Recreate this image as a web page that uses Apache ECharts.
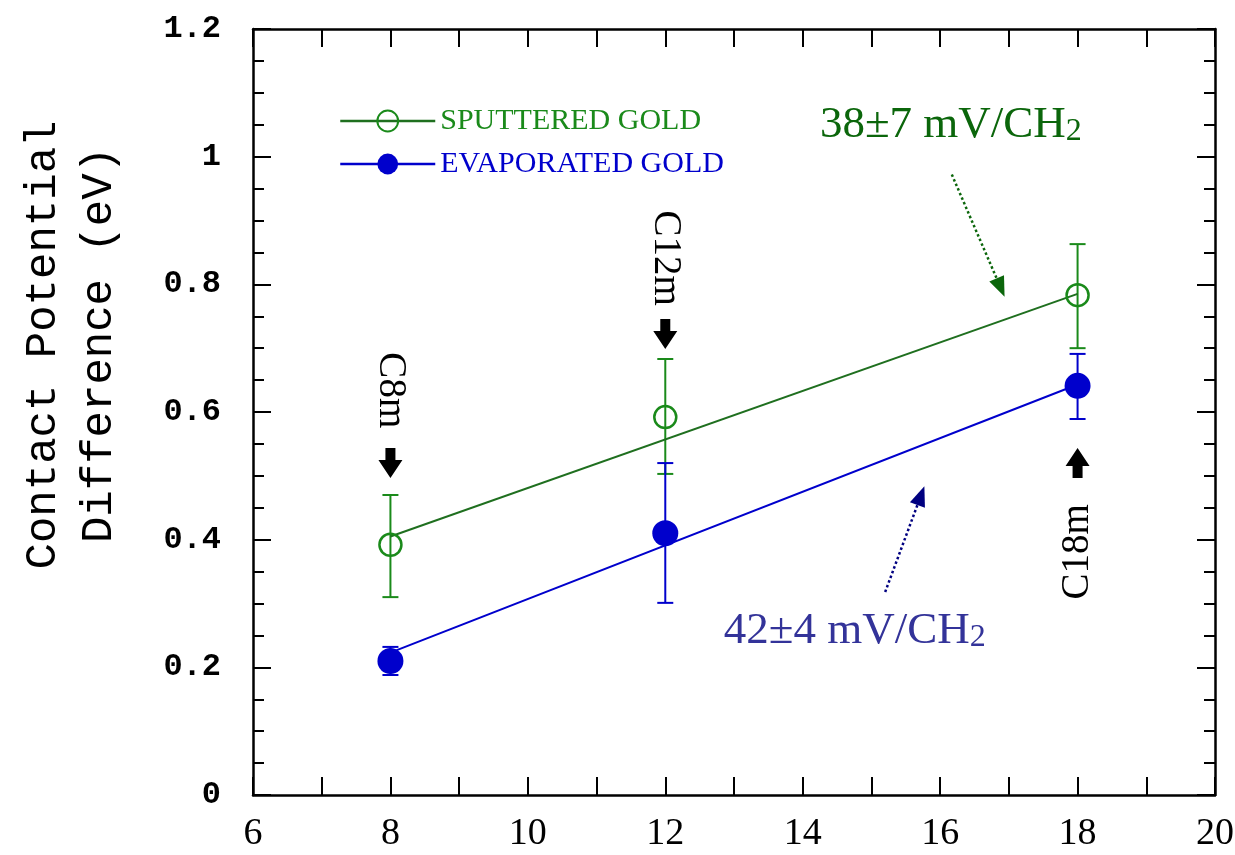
<!DOCTYPE html>
<html><head><meta charset="utf-8">
<script src="https://cdn.jsdelivr.net/npm/echarts@6/dist/echarts.min.js"></script>
<style>html,body{margin:0;padding:0;background:#fff}#c{width:1235px;height:855px}</style>
</head><body><div id="c"></div><script>
// ---- data ----
const chainLengths = [8, 12, 18];
const sputteredCPD = [0.392, 0.592, 0.783];
const sputteredErrLow = [0.310, 0.503, 0.700];
const sputteredErrHigh = [0.470, 0.683, 0.863];
const evaporatedCPD = [0.210, 0.410, 0.641];
const evaporatedErrLow = [0.188, 0.301, 0.589];
const evaporatedErrHigh = [0.232, 0.520, 0.691];
const fitX = [8, 18];
const sputteredFit = [0.405, 0.785];
const evaporatedFit = [0.223, 0.643];
const chainLabels = ['C8m', 'C12m', 'C18m'];
const seriesNames = ['SPUTTERED GOLD', 'EVAPORATED GOLD'];
const slopeTexts = ['38±7 mV/CH', '42±4 mV/CH'];
const xRange = [6, 20];
const yRange = [0, 1.2];

// ---- styles ----
const GREEN = '#1a8a1a', GREEN_LINE = '#1f6f1f', GREEN_TXT = '#0b660b';
const BLUE = '#0000cc', BLUE_TXT = '#333399';
const SERIF = 'Liberation Serif';

function zip(xs, ys) { return xs.map((x, i) => [x, ys[i]]); }
function errData(lo, hi) { return chainLengths.map((x, i) => [x, lo[i], hi[i]]); }
function errRender(color) {
  return function (params, api) {
    const x = api.value(0);
    const a = api.coord([x, api.value(1)]);
    const b = api.coord([x, api.value(2)]);
    const w = 8;
    const st = { stroke: color, lineWidth: 2 };
    return { type: 'group', children: [
      { type: 'line', shape: { x1: a[0], y1: a[1], x2: b[0], y2: b[1] }, style: st },
      { type: 'line', shape: { x1: a[0] - w, y1: a[1], x2: a[0] + w, y2: a[1] }, style: st },
      { type: 'line', shape: { x1: b[0] - w, y1: b[1], x2: b[0] + w, y2: b[1] }, style: st }
    ]};
  };
}
const axisCommon = {
  type: 'value', splitLine: { show: false },
  axisLine: { onZero: false, lineStyle: { color: '#000', width: 2.5 } },
  axisTick: { inside: true, length: 18, lineStyle: { color: '#000', width: 2 } }
};

const chart = echarts.init(document.getElementById('c'), null, { renderer: 'canvas' });
chart.setOption({
  animation: false,
  backgroundColor: '#fff',
  grid: { left: 253, right: 20, top: 29, bottom: 60, containLabel: false, outerBoundsMode: 'none' },
  xAxis: [
    Object.assign({}, axisCommon, {
      min: xRange[0], max: xRange[1], interval: 2, position: 'bottom',
      minorTick: { show: true, splitNumber: 2, length: 18, lineStyle: { color: '#000', width: 2 } },
      axisLabel: { fontFamily: SERIF, fontSize: 38, color: '#000', margin: 20 }
    }),
    Object.assign({}, axisCommon, {
      min: xRange[0], max: xRange[1], interval: 2, position: 'top',
      minorTick: { show: true, splitNumber: 2, length: 18, lineStyle: { color: '#000', width: 2 } },
      axisLabel: { show: false }
    })
  ],
  yAxis: [
    Object.assign({}, axisCommon, {
      min: yRange[0], max: yRange[1], interval: 0.2, position: 'left',
      minorTick: { show: true, splitNumber: 4, length: 11, lineStyle: { color: '#000', width: 2 } },
      axisLabel: { fontFamily: 'Liberation Mono', fontWeight: 'bold', fontSize: 32, color: '#000', margin: 32 },
      name: 'Contact Potential\nDifference (eV)', nameLocation: 'middle', nameRotate: 90, nameGap: 126,
      nameTextStyle: { fontFamily: 'Liberation Mono', fontSize: 44, lineHeight: 56, color: '#000', padding: [0, 0, 0, 134] }
    }),
    Object.assign({}, axisCommon, {
      min: yRange[0], max: yRange[1], interval: 0.2, position: 'right',
      minorTick: { show: true, splitNumber: 4, length: 11, lineStyle: { color: '#000', width: 2 } },
      axisLabel: { show: false }
    })
  ],
  legend: {
    left: 334, top: 101, orient: 'vertical', itemWidth: 95, itemHeight: 26, itemGap: 13,
    textStyle: { fontFamily: SERIF, fontSize: 30 },
    data: [
      { name: seriesNames[0], textStyle: { color: GREEN }, lineStyle: { color: GREEN_LINE, width: 2.5, opacity: 1 } },
      { name: seriesNames[1], textStyle: { color: BLUE }, lineStyle: { color: BLUE, width: 2.5, opacity: 1 } }
    ]
  },
  series: [
    { type: 'custom', name: 'err-sputtered', renderItem: errRender(GREEN), data: errData(sputteredErrLow, sputteredErrHigh),
      encode: { x: 0, y: [1, 2] }, z: 2, silent: true },
    { type: 'custom', name: 'err-evaporated', renderItem: errRender(BLUE), data: errData(evaporatedErrLow, evaporatedErrHigh),
      encode: { x: 0, y: [1, 2] }, z: 2, silent: true },
    { type: 'line', name: 'fit-sputtered', data: zip(fitX, sputteredFit), symbol: 'none', z: 3,
      lineStyle: { color: GREEN_LINE, width: 2 },
      markLine: { silent: true, symbol: ['none', 'triangle'], symbolSize: [16, 20], label: { show: false },
        lineStyle: { type: 'dotted', width: 2.5, color: '#0b660b' },
        data: [[{ coord: [16.17, 0.972] }, { coord: [16.88, 0.795] }]] } },
    { type: 'line', name: 'fit-evaporated', data: zip(fitX, evaporatedFit), symbol: 'none', z: 3,
      lineStyle: { color: BLUE, width: 2 },
      markLine: { silent: true, symbol: ['none', 'triangle'], symbolSize: [16, 20], label: { show: false },
        lineStyle: { type: 'dotted', width: 2.5, color: '#000080' },
        data: [[{ coord: [15.20, 0.318] }, { coord: [15.72, 0.469] }]] } },
    { type: 'line', name: seriesNames[0], data: zip(chainLengths, sputteredCPD), z: 4,
      symbol: 'circle', symbolSize: 22, lineStyle: { opacity: 0, color: GREEN_LINE },
      itemStyle: { color: 'rgba(0,0,0,0)', borderColor: GREEN, borderWidth: 2.5 } },
    { type: 'line', name: seriesNames[1], data: zip(chainLengths, evaporatedCPD), z: 4,
      symbol: 'circle', symbolSize: 26, lineStyle: { opacity: 0, color: BLUE },
      itemStyle: { color: BLUE } }
  ]
});

// annotations anchored in data coordinates
const px = p => chart.convertToPixel({ gridIndex: 0 }, p);
const chainAnn = [
  { label: chainLabels[0], text: [8, 0.634], arrow: [8, 0.520], dir: 1 },
  { label: chainLabels[1], text: [12, 0.841], arrow: [12, 0.722], dir: 1 },
  { label: chainLabels[2], text: [18, 0.381], arrow: [18, 0.520], dir: -1 }
];
const graphics = [];
chainAnn.forEach(a => {
  const t = px(a.text), r = px(a.arrow);
  graphics.push({ type: 'text', x: t[0], y: t[1], rotation: a.dir > 0 ? -Math.PI / 2 : Math.PI / 2,
    style: { text: a.label, font: '39px "Liberation Serif"', fill: '#000', align: 'center', verticalAlign: 'middle' } });
  const d = a.dir; // 1 = pointing down
  const cx = r[0], cy = r[1];
  const pts = [[-5, -15], [5, -15], [5, -3], [12, -3], [0, 15], [-12, -3], [-5, -3]]
    .map(p => [cx + p[0], cy + p[1] * d]);
  graphics.push({ type: 'polygon', shape: { points: pts }, style: { fill: '#000' } });
});
const s1 = px([14.25, 1.085]), s2 = px([12.85, 0.292]);
function slopeLabel(p, txt, color) {
  return { type: 'text', x: p[0], y: p[1], style: {
    text: '{a|' + txt + '}{s|2}',
    rich: { a: { font: '45px "Liberation Serif"', fill: color, lineHeight: 45, verticalAlign: 'top' },
            s: { font: '32px "Liberation Serif"', fill: color, lineHeight: 32, padding: [26, 0, 0, 0], verticalAlign: 'bottom' } } } };
}
graphics.push(slopeLabel(s1, slopeTexts[0], GREEN_TXT));
graphics.push(slopeLabel(s2, slopeTexts[1], BLUE_TXT));
chart.setOption({ graphic: graphics });
</script></body></html>
